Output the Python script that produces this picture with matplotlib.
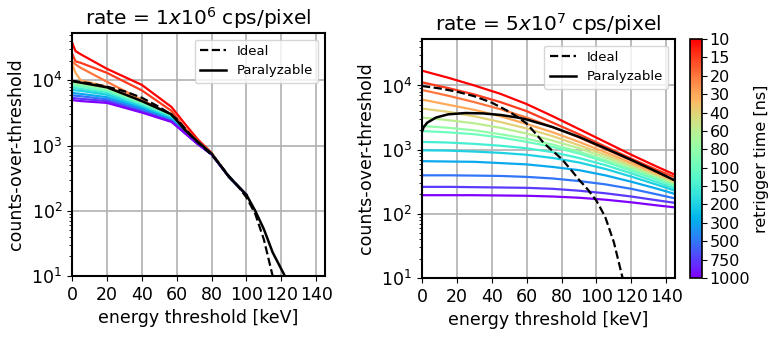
import numpy as np
import matplotlib
matplotlib.use("Agg")
import matplotlib.pyplot as plt
from matplotlib.cm import ScalarMappable
from matplotlib.colors import Normalize

# retrigger times [ns], index 0 = red
retrigger = [10, 15, 20, 30, 40, 60, 80, 100, 150, 200, 300, 500, 750, 1000]

# ideal spectrum (same in both panels)
E_ideal = [0, 5, 10, 20, 30, 40, 50, 55, 60, 65, 70, 75, 80, 85, 90, 95, 100, 105, 110, 115]
ideal = [9800, 9400, 9000, 8000, 6800, 5400, 3900, 3200, 2550, 1800, 1250, 950, 720, 500,
         340, 240, 160, 90, 36, 10]

# --- rate = 1e6 ---
E_para_L = [0, 2, 5, 20, 40, 57, 65, 72, 80, 90, 100, 105, 110, 115, 122]
para_L = [9800, 9500, 9200, 7800, 4800, 3000, 1700, 1150, 750, 330, 175, 100, 52, 23, 10]

E_col_L = [0, 2, 5, 20, 40, 57, 65, 72, 80, 90, 100]
col_L = [
    [38000, 28000, 25000, 15000, 8500, 3900, 2100, 1250, 770, 330, 175],
    [26000, 19500, 18500, 13000, 7000, 3400, 1800, 1200, 760, 330, 175],
    [19500, 17500, 15500, 9500, 5000, 3000, 1700, 1150, 750, 330, 175],
    [18000, 13000, 10000, 8000, 4900, 3000, 1700, 1150, 750, 330, 175],
    [9600, 9400, 9100, 7700, 4700, 2950, 1680, 1140, 750, 330, 175],
    [9200, 9000, 8800, 7400, 4600, 2900, 1660, 1130, 750, 330, 175],
    [8800, 8600, 8400, 7100, 4500, 2850, 1640, 1120, 745, 330, 175],
    [8400, 8200, 8000, 6800, 4300, 2800, 1620, 1110, 745, 330, 175],
    [7800, 7600, 7400, 6400, 4100, 2700, 1600, 1100, 740, 330, 175],
    [7200, 7000, 6900, 6000, 3900, 2600, 1580, 1090, 740, 330, 175],
    [6500, 6300, 6200, 5500, 3700, 2500, 1560, 1080, 735, 330, 175],
    [5900, 5800, 5700, 5100, 3500, 2400, 1540, 1070, 735, 330, 175],
    [5400, 5300, 5200, 4800, 3300, 2350, 1530, 1060, 730, 330, 175],
    [5000, 4900, 4800, 4500, 3200, 2300, 1520, 1050, 730, 330, 175],
]

# --- rate = 5e7 ---
E_para_R = [0, 1, 3, 8, 15, 25, 35, 45, 55, 60, 75, 90, 105, 120, 135, 145]
para_R = [1910, 2250, 2630, 3160, 3550, 3720, 3670, 3470, 3160, 2950, 2240, 1580, 1050, 692, 447, 331]

E_col_R = [0, 15, 30, 45, 60, 75, 90, 105, 120, 135, 145]
col_R = [
    [17000, 13200, 10000, 7400, 5130, 3310, 2090, 1320, 832, 537, 407],
    [11200, 9120, 7240, 5500, 3980, 2630, 1740, 1120, 724, 479, 372],
    [8510, 6920, 5500, 4270, 3160, 2240, 1550, 1020, 676, 427, 324],
    [6030, 5010, 4170, 3310, 2510, 1860, 1320, 912, 617, 407, 309],
    [4370, 3890, 3310, 2690, 2140, 1620, 1170, 832, 575, 389, 302],
    [3160, 2880, 2570, 2190, 1780, 1380, 1050, 759, 537, 372, 288],
    [2340, 2190, 2000, 1740, 1480, 1200, 933, 692, 501, 355, 275],
    [1950, 1860, 1740, 1550, 1320, 1100, 871, 646, 468, 339, 263],
    [1320, 1290, 1230, 1150, 1050, 912, 741, 575, 427, 309, 245],
    [977, 966, 933, 891, 832, 741, 631, 501, 380, 282, 229],
    [661, 653, 646, 617, 589, 537, 479, 398, 316, 245, 204],
    [398, 398, 394, 389, 376, 355, 324, 288, 245, 200, 174],
    [263, 263, 260, 257, 254, 245, 229, 209, 186, 162, 148],
    [195, 195, 195, 193, 191, 186, 178, 166, 151, 135, 126],
]

cmap = plt.get_cmap("rainbow")
n = len(retrigger)
colors = [cmap((n - 1 - i) / (n - 1)) for i in range(n)]

plt.rcParams["font.family"] = "DejaVu Sans"
plt.rcParams["font.size"] = 12

fig = plt.figure(figsize=(7.82, 3.39), dpi=100)
axL = fig.add_axes([0.0921, 0.1858, 0.3235, 0.7168])
axR = fig.add_axes([0.5396, 0.1800, 0.3235, 0.7050])
cax = fig.add_axes([0.8824, 0.1800, 0.0150, 0.7050])


def setup(ax, title):
    ax.set_yscale("log")
    ax.set_xlim(0, 145)
    ax.set_ylim(10, 5.3e4)
    ax.set_xticks(range(0, 141, 20))
    ax.grid(True, which="major", color="#b0b0b0", lw=1.2)
    ax.set_axisbelow(True)
    ax.set_title(title, fontsize=14.5)
    ax.set_xlabel("energy threshold [keV]", fontsize=12.5)
    ax.set_ylabel("counts-over-threshold", fontsize=12.5)
    ax.tick_params(labelsize=12.5)
    for s in ax.spines.values():
        s.set_linewidth(1.5)


setup(axL, r"rate = 1$x$10$^6$ cps/pixel")
setup(axR, r"rate = 5$x$10$^7$ cps/pixel")

for i in range(n):
    axL.plot(E_col_L, col_L[i], color=colors[i], lw=1.6)
axL.plot(E_ideal, ideal, "k--", lw=1.6, label="Ideal")
axL.plot(E_para_L, para_L, "k-", lw=1.8, label="Paralyzable")

for i in range(n):
    axR.plot(E_col_R, col_R[i], color=colors[i], lw=1.6)
axR.plot(E_ideal, ideal, "k--", lw=1.6, label="Ideal")
axR.plot(E_para_R, para_R, "k-", lw=1.8, label="Paralyzable")

for ax in (axL, axR):
    ax.legend(loc="upper right", fontsize=9.5, handlelength=2.0)

sm = ScalarMappable(norm=Normalize(0, n - 1), cmap=cmap)
cb = fig.colorbar(sm, cax=cax)
cb.set_ticks(range(n))
cb.set_ticklabels([str(t) for t in retrigger[::-1]])
cb.ax.tick_params(labelsize=11.5, pad=2)
cb.set_label("retrigger time [ns]", fontsize=11.5, labelpad=3)
cb.outline.set_linewidth(1.2)

fig.savefig("out.png", dpi=100)
